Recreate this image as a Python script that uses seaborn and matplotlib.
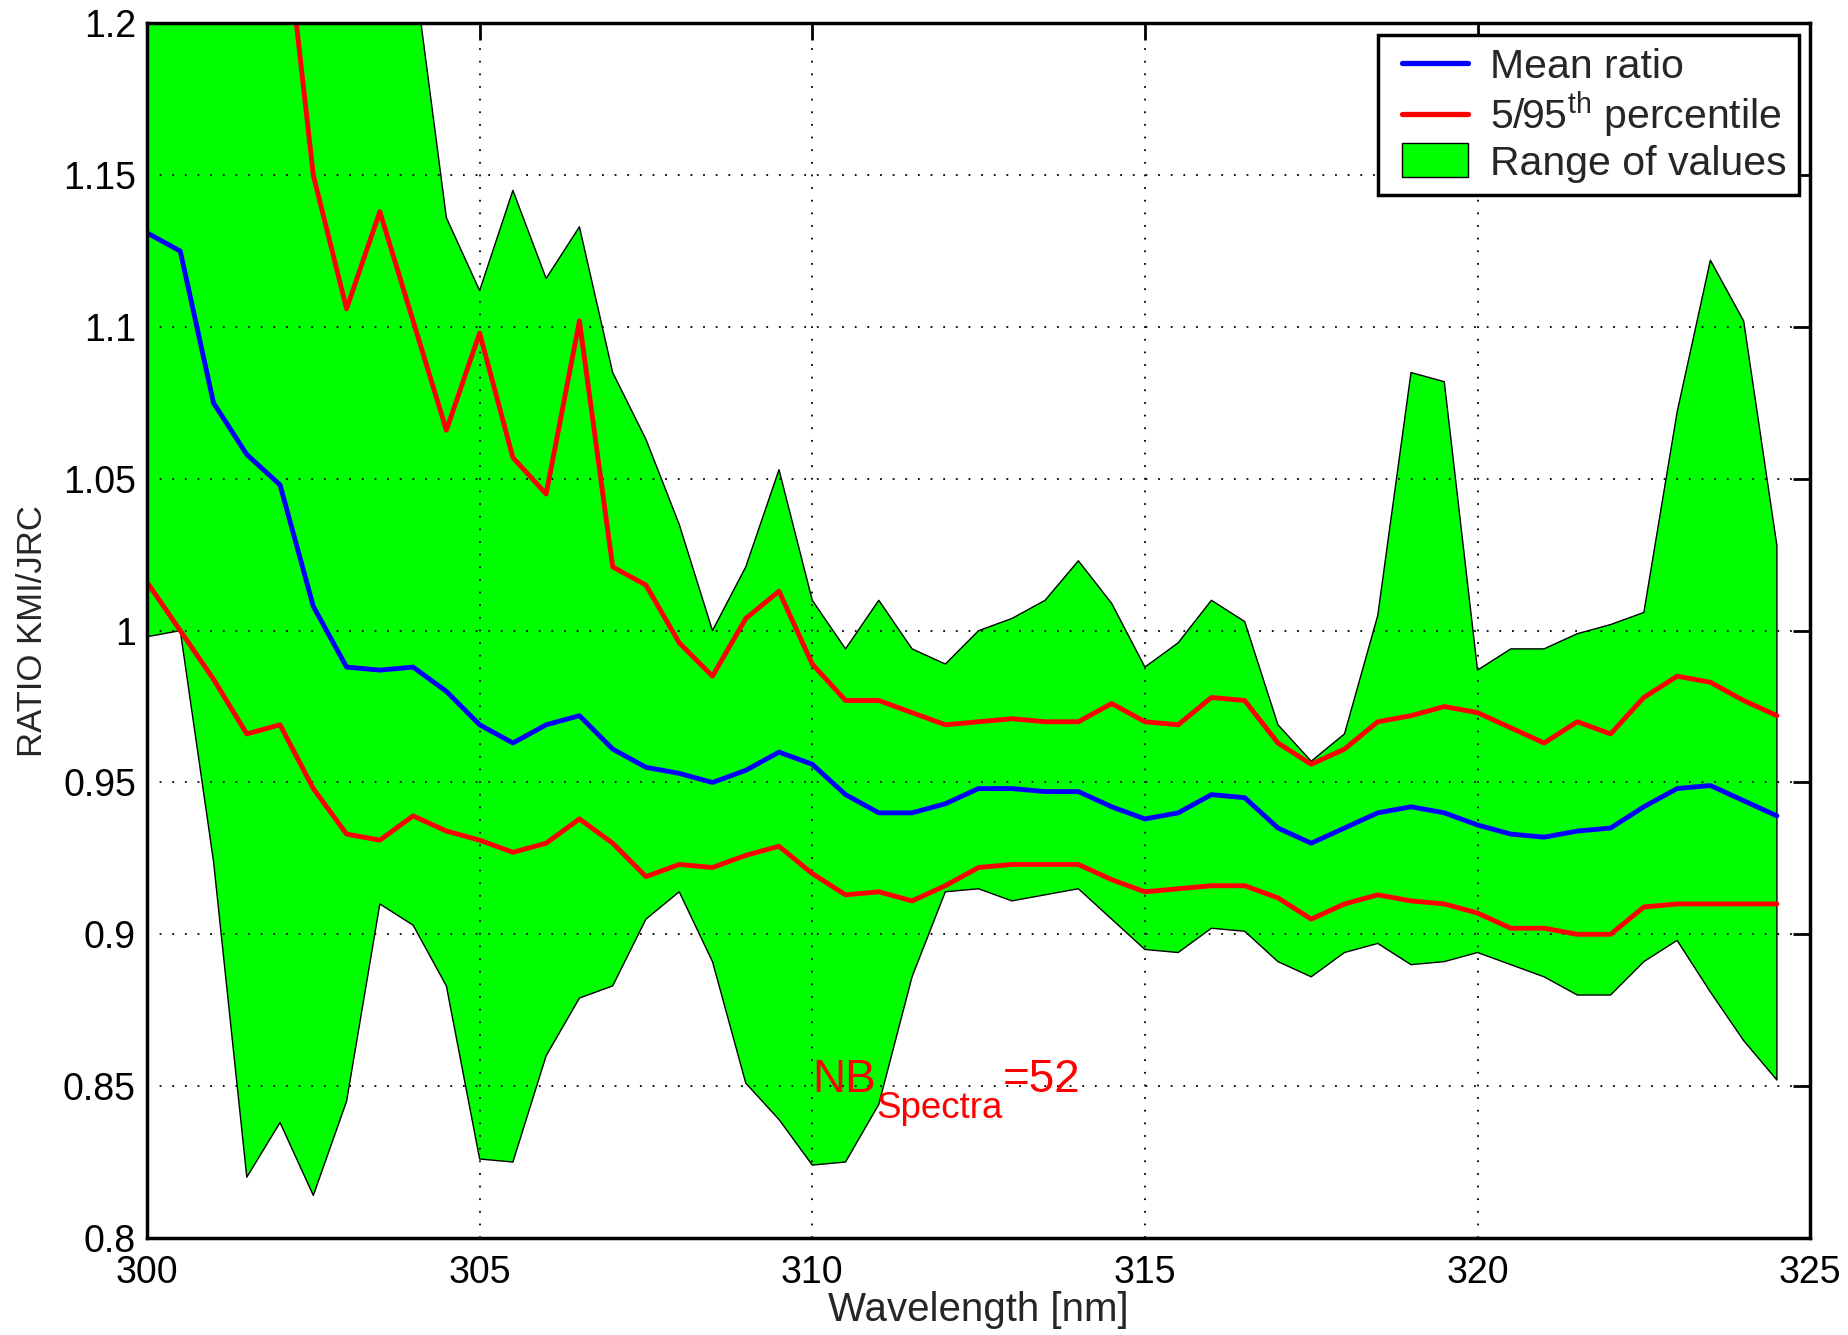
import numpy as np
import matplotlib
matplotlib.use("Agg")
import matplotlib.pyplot as plt
import seaborn as sns
from matplotlib.lines import Line2D
from matplotlib.patches import Patch
from matplotlib.legend_handler import HandlerLine2D, HandlerPatch
from matplotlib.ticker import FuncFormatter, MultipleLocator

wavelength = [300.0, 300.5, 301.0, 301.5, 302.0, 302.5, 303.0, 303.5, 304.0, 304.5,
              305.0, 305.5, 306.0, 306.5, 307.0, 307.5, 308.0, 308.5, 309.0, 309.5,
              310.0, 310.5, 311.0, 311.5, 312.0, 312.5, 313.0, 313.5, 314.0, 314.5,
              315.0, 315.5, 316.0, 316.5, 317.0, 317.5, 318.0, 318.5, 319.0, 319.5,
              320.0, 320.5, 321.0, 321.5, 322.0, 322.5, 323.0, 323.5, 324.0, 324.5]

range_max = [1.45, 1.44, 1.42, 1.40, 1.38, 1.35, 1.32, 1.29, 1.22, 1.136,
             1.112, 1.145, 1.116, 1.133, 1.085, 1.063, 1.035, 1.000, 1.021, 1.053,
             1.010, 0.994, 1.010, 0.994, 0.989, 1.000, 1.004, 1.010, 1.023, 1.009,
             0.988, 0.996, 1.010, 1.003, 0.969, 0.957, 0.966, 1.005, 1.085, 1.082,
             0.987, 0.994, 0.994, 0.999, 1.002, 1.006, 1.072, 1.122, 1.102, 1.028]

range_min = [0.998, 1.000, 0.924, 0.820, 0.838, 0.814, 0.845, 0.910, 0.903, 0.883,
             0.826, 0.825, 0.860, 0.879, 0.883, 0.905, 0.914, 0.891, 0.851, 0.839,
             0.824, 0.825, 0.844, 0.886, 0.914, 0.915, 0.911, 0.913, 0.915, 0.905,
             0.895, 0.894, 0.902, 0.901, 0.891, 0.886, 0.894, 0.897, 0.890, 0.891,
             0.894, 0.890, 0.886, 0.880, 0.880, 0.891, 0.898, 0.881, 0.865, 0.852]

p95 = [1.40, 1.36, 1.32, 1.29, 1.248, 1.150, 1.106, 1.138, 1.102, 1.066,
       1.098, 1.057, 1.045, 1.102, 1.021, 1.015, 0.996, 0.985, 1.004, 1.013,
       0.989, 0.977, 0.977, 0.973, 0.969, 0.970, 0.971, 0.970, 0.970, 0.976,
       0.970, 0.969, 0.978, 0.977, 0.963, 0.956, 0.961, 0.970, 0.972, 0.975,
       0.973, 0.968, 0.963, 0.970, 0.966, 0.978, 0.985, 0.983, 0.977, 0.972]

p5 = [1.016, 1.000, 0.984, 0.966, 0.969, 0.948, 0.933, 0.931, 0.939, 0.934,
      0.931, 0.927, 0.930, 0.938, 0.930, 0.919, 0.923, 0.922, 0.926, 0.929,
      0.920, 0.913, 0.914, 0.911, 0.916, 0.922, 0.923, 0.923, 0.923, 0.918,
      0.914, 0.915, 0.916, 0.916, 0.912, 0.905, 0.910, 0.913, 0.911, 0.910,
      0.907, 0.902, 0.902, 0.900, 0.900, 0.909, 0.910, 0.910, 0.910, 0.910]

mean_ratio = [1.131, 1.125, 1.075, 1.058, 1.048, 1.008, 0.988, 0.987, 0.988, 0.980,
              0.969, 0.963, 0.969, 0.972, 0.961, 0.955, 0.953, 0.950, 0.954, 0.960,
              0.956, 0.946, 0.940, 0.940, 0.943, 0.948, 0.948, 0.947, 0.947, 0.942,
              0.938, 0.940, 0.946, 0.945, 0.935, 0.930, 0.935, 0.940, 0.942, 0.940,
              0.936, 0.933, 0.932, 0.934, 0.935, 0.942, 0.948, 0.949, 0.944, 0.939]

legend_labels = ["Mean ratio", r"5/95$^{\mathrm{th}}$ percentile", "Range of values"]
annot_main = "NB"
annot_sub = "Spectra"
annot_tail = "=52"

sns.set_style("white")
plt.rcParams['font.family'] = ['Liberation Sans', 'DejaVu Sans']
plt.rcParams['mathtext.fontset'] = 'custom'
plt.rcParams['mathtext.rm'] = 'Liberation Sans'
plt.rcParams['mathtext.it'] = 'Liberation Sans:italic'

fig = plt.figure(figsize=(18.49, 13.35), dpi=100)
ax = fig.add_axes([0.0795, 0.0727, 0.8995, 0.9098])

ax.fill_between(wavelength, range_min, range_max, facecolor='#00ff00',
                edgecolor='black', linewidth=1.0, zorder=2)
sns.lineplot(x=wavelength, y=p95, ax=ax, color='red', linewidth=3.5, zorder=3)
sns.lineplot(x=wavelength, y=p5, ax=ax, color='red', linewidth=3.5, zorder=3)
sns.lineplot(x=wavelength, y=mean_ratio, ax=ax, color='blue', linewidth=3.5, zorder=4)

ax.set_xlim(300, 325)
ax.set_ylim(0.8, 1.2)
ax.xaxis.set_major_locator(MultipleLocator(5))
ax.yaxis.set_major_locator(MultipleLocator(0.05))
ax.yaxis.set_major_formatter(FuncFormatter(lambda v, p: f"{v:g}"))

ax.grid(True, color='black', linestyle=(0, (1, 6)), linewidth=1.3, zorder=2.5)
ax.set_axisbelow(False)
for s in ax.spines.values():
    s.set_visible(True)
    s.set_linewidth(2.5)
    s.set_color('black')
    s.set_zorder(5)
ax.tick_params(direction='in', length=12, width=2, top=True, right=True,
               labelsize=27, colors='black')
ax.tick_params(axis='y', pad=8)
ax.tick_params(axis='x', pad=12)

ax.set_xlabel("Wavelength [nm]", fontsize=29, labelpad=0)
ax.set_ylabel("RATIO KMI/JRC", fontsize=25, labelpad=10)

t1 = ax.text(310, 0.848, annot_main, color='red', fontsize=33, va='baseline', ha='left', zorder=6)
t2 = ax.annotate(annot_sub, xy=(1, 0), xycoords=t1, xytext=(0, -17), textcoords='offset points',
                 color='red', fontsize=26.5, va='bottom', ha='left', zorder=6)
t3 = ax.annotate(annot_tail, xy=(1, 0), xycoords=(t2, t1), xytext=(0, 0), textcoords='offset points',
                 color='red', fontsize=33, va='bottom', ha='left', zorder=6)


def shifted(handler_cls, shift):
    class _Shifted(handler_cls):
        def create_artists(self, legend, orig_handle, xdescent, ydescent, width, height,
                           fontsize, trans):
            return super().create_artists(legend, orig_handle, xdescent - shift, ydescent,
                                          width - shift, height, fontsize, trans)
    return _Shifted()


handles = [Line2D([], [], color='blue', linewidth=3.8),
           Line2D([], [], color='red', linewidth=3.8),
           Patch(facecolor='#00ff00', edgecolor='black', linewidth=1)]
shift_pt = 8.5
handler_map = {handles[0]: shifted(HandlerLine2D, shift_pt),
               handles[1]: shifted(HandlerLine2D, shift_pt),
               handles[2]: shifted(HandlerPatch, shift_pt)}
leg = ax.legend(handles, legend_labels, loc='upper right', bbox_to_anchor=(0.9934, 0.9904),
                borderaxespad=0, fontsize=29.5, frameon=True, fancybox=False,
                framealpha=1, edgecolor='black', handlelength=1.89, handleheight=0.9,
                handletextpad=0.55, labelspacing=0.08, borderpad=0.3,
                handler_map=handler_map)
leg.get_frame().set_linewidth(2.5)
leg.set_zorder(10)

fig.savefig("out.png", dpi=100)
